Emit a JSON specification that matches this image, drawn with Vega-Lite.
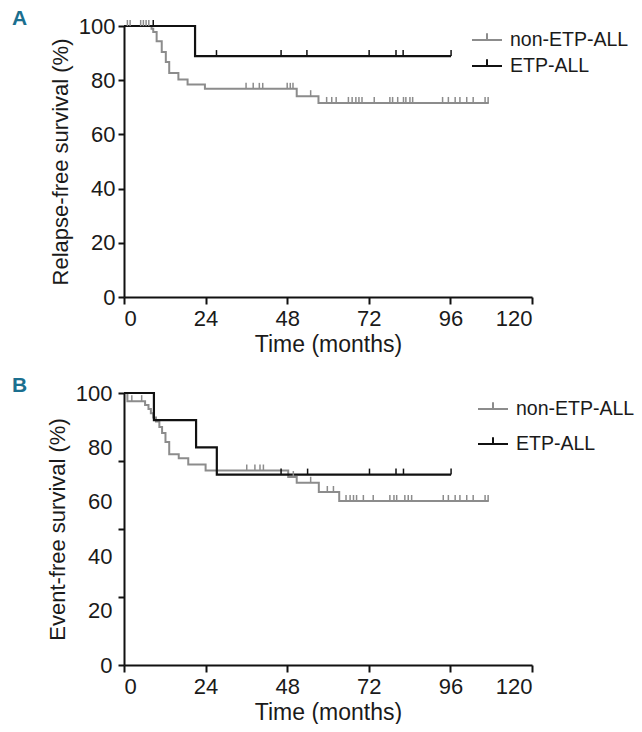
{
  "$schema": "https://vega.github.io/schema/vega-lite/v6.json",
  "padding": {"left": 12, "top": 8, "right": 0, "bottom": 0},
  "spacing": 19,
  "background": "white",
  "resolve": {"legend": {"color": "independent"}},
  "config": {
    "font": "Liberation Sans",
    "view": {"stroke": null},
    "axis": {
      "grid": false, "domainColor": "#111111", "domainWidth": 2, "tickColor": "#111111", "tickWidth": 2, "tickSize": 7,
      "labelFont": "Liberation Sans", "titleFont": "Liberation Sans",
      "labelFontSize": 22, "labelColor": "#1a1a1a", "titleFontSize": 22, "titleFontWeight": "normal", "titleColor": "#1a1a1a"
    },
    "legend": {
      "labelFont": "Liberation Sans", "labelFontSize": 19.5, "labelColor": "#1a1a1a",
      "symbolType": "M-1,0H1M0,0V-0.45", "symbolSize": 900, "symbolStrokeWidth": 2,
      "labelOffset": 7, "rowPadding": 0
    },
    "title": {"font": "Liberation Sans", "fontSize": 21, "fontWeight": "bold", "color": "#1b6f8f", "anchor": "start", "frame": "group", "offset": 0, "baseline": "alphabetic"}
  },
  "datasets": {
    "lineA": [
      {"group": "non-ETP-ALL", "t": 0, "s": 100}, {"group": "non-ETP-ALL", "t": 8.1, "s": 99.0}, {"group": "non-ETP-ALL", "t": 8.6, "s": 97.8},
      {"group": "non-ETP-ALL", "t": 9.6, "s": 94.4}, {"group": "non-ETP-ALL", "t": 11.1, "s": 90.4}, {"group": "non-ETP-ALL", "t": 12.3, "s": 86.7},
      {"group": "non-ETP-ALL", "t": 13.3, "s": 82.7}, {"group": "non-ETP-ALL", "t": 16.0, "s": 80.3}, {"group": "non-ETP-ALL", "t": 18.7, "s": 78.4},
      {"group": "non-ETP-ALL", "t": 23.8, "s": 76.8}, {"group": "non-ETP-ALL", "t": 50.8, "s": 74.1}, {"group": "non-ETP-ALL", "t": 57.2, "s": 71.6},
      {"group": "non-ETP-ALL", "t": 107.3, "s": 71.6},
      {"group": "ETP-ALL", "t": 0, "s": 100}, {"group": "ETP-ALL", "t": 20.9, "s": 88.9}, {"group": "ETP-ALL", "t": 96.2, "s": 88.9}
    ],
    "censA": [
      {"group": "non-ETP-ALL", "t": 1.0, "s": 100}, {"group": "non-ETP-ALL", "t": 1.8, "s": 100}, {"group": "non-ETP-ALL", "t": 4.9, "s": 100},
      {"group": "non-ETP-ALL", "t": 5.7, "s": 100}, {"group": "non-ETP-ALL", "t": 6.5, "s": 100}, {"group": "non-ETP-ALL", "t": 7.3, "s": 100},
      {"group": "non-ETP-ALL", "t": 35.9, "s": 76.8}, {"group": "non-ETP-ALL", "t": 38.0, "s": 76.8}, {"group": "non-ETP-ALL", "t": 39.8, "s": 76.8},
      {"group": "non-ETP-ALL", "t": 40.8, "s": 76.8}, {"group": "non-ETP-ALL", "t": 48.0, "s": 76.8}, {"group": "non-ETP-ALL", "t": 48.9, "s": 76.8},
      {"group": "non-ETP-ALL", "t": 49.7, "s": 76.8}, {"group": "non-ETP-ALL", "t": 54.9, "s": 74.1},
      {"group": "non-ETP-ALL", "t": 59.6, "s": 71.6}, {"group": "non-ETP-ALL", "t": 61.1, "s": 71.6}, {"group": "non-ETP-ALL", "t": 62.4, "s": 71.6},
      {"group": "non-ETP-ALL", "t": 66.0, "s": 71.6}, {"group": "non-ETP-ALL", "t": 67.1, "s": 71.6}, {"group": "non-ETP-ALL", "t": 68.2, "s": 71.6},
      {"group": "non-ETP-ALL", "t": 69.1, "s": 71.6}, {"group": "non-ETP-ALL", "t": 70.0, "s": 71.6}, {"group": "non-ETP-ALL", "t": 73.6, "s": 71.6},
      {"group": "non-ETP-ALL", "t": 78.2, "s": 71.6}, {"group": "non-ETP-ALL", "t": 79.0, "s": 71.6}, {"group": "non-ETP-ALL", "t": 80.5, "s": 71.6},
      {"group": "non-ETP-ALL", "t": 82.2, "s": 71.6}, {"group": "non-ETP-ALL", "t": 82.9, "s": 71.6}, {"group": "non-ETP-ALL", "t": 84.1, "s": 71.6},
      {"group": "non-ETP-ALL", "t": 84.9, "s": 71.6}, {"group": "non-ETP-ALL", "t": 93.7, "s": 71.6}, {"group": "non-ETP-ALL", "t": 95.4, "s": 71.6},
      {"group": "non-ETP-ALL", "t": 97.4, "s": 71.6}, {"group": "non-ETP-ALL", "t": 98.8, "s": 71.6}, {"group": "non-ETP-ALL", "t": 100.8, "s": 71.6},
      {"group": "non-ETP-ALL", "t": 102.7, "s": 71.6}, {"group": "non-ETP-ALL", "t": 106.2, "s": 71.6}, {"group": "non-ETP-ALL", "t": 107.1, "s": 71.6},
      {"group": "ETP-ALL", "t": 8.6, "s": 100}, {"group": "ETP-ALL", "t": 27.2, "s": 88.9}, {"group": "ETP-ALL", "t": 46.2, "s": 88.9},
      {"group": "ETP-ALL", "t": 53.8, "s": 88.9}, {"group": "ETP-ALL", "t": 72.1, "s": 88.9}, {"group": "ETP-ALL", "t": 80.0, "s": 88.9},
      {"group": "ETP-ALL", "t": 82.1, "s": 88.9}, {"group": "ETP-ALL", "t": 96.2, "s": 88.9}
    ],
    "lineB": [
      {"group": "non-ETP-ALL", "t": 0, "s": 100}, {"group": "non-ETP-ALL", "t": 1.0, "s": 97.0}, {"group": "non-ETP-ALL", "t": 6.2, "s": 95.6},
      {"group": "non-ETP-ALL", "t": 7.2, "s": 94.1}, {"group": "non-ETP-ALL", "t": 7.9, "s": 92.6}, {"group": "non-ETP-ALL", "t": 8.6, "s": 91.0},
      {"group": "non-ETP-ALL", "t": 9.4, "s": 89.5}, {"group": "non-ETP-ALL", "t": 10.4, "s": 87.5}, {"group": "non-ETP-ALL", "t": 11.2, "s": 85.3},
      {"group": "non-ETP-ALL", "t": 12.2, "s": 82.0}, {"group": "non-ETP-ALL", "t": 13.3, "s": 77.5}, {"group": "non-ETP-ALL", "t": 16.1, "s": 76.0},
      {"group": "non-ETP-ALL", "t": 18.9, "s": 73.7}, {"group": "non-ETP-ALL", "t": 24.0, "s": 71.5}, {"group": "non-ETP-ALL", "t": 48.3, "s": 69.1},
      {"group": "non-ETP-ALL", "t": 50.8, "s": 67.0}, {"group": "non-ETP-ALL", "t": 57.3, "s": 63.6}, {"group": "non-ETP-ALL", "t": 63.3, "s": 60.3},
      {"group": "non-ETP-ALL", "t": 107.3, "s": 60.3},
      {"group": "ETP-ALL", "t": 0, "s": 100}, {"group": "ETP-ALL", "t": 8.8, "s": 90}, {"group": "ETP-ALL", "t": 21.2, "s": 80},
      {"group": "ETP-ALL", "t": 27.3, "s": 70}, {"group": "ETP-ALL", "t": 96.2, "s": 70}
    ],
    "censB": [
      {"group": "non-ETP-ALL", "t": 2.3, "s": 97.0}, {"group": "non-ETP-ALL", "t": 5.2, "s": 97.0},
      {"group": "non-ETP-ALL", "t": 36.1, "s": 71.5}, {"group": "non-ETP-ALL", "t": 38.5, "s": 71.5}, {"group": "non-ETP-ALL", "t": 40.0, "s": 71.5},
      {"group": "non-ETP-ALL", "t": 41.0, "s": 71.5}, {"group": "non-ETP-ALL", "t": 49.8, "s": 69.1}, {"group": "non-ETP-ALL", "t": 54.9, "s": 67.0},
      {"group": "non-ETP-ALL", "t": 59.8, "s": 63.6}, {"group": "non-ETP-ALL", "t": 61.6, "s": 63.6},
      {"group": "non-ETP-ALL", "t": 65.3, "s": 60.3}, {"group": "non-ETP-ALL", "t": 66.5, "s": 60.3}, {"group": "non-ETP-ALL", "t": 67.5, "s": 60.3},
      {"group": "non-ETP-ALL", "t": 68.4, "s": 60.3}, {"group": "non-ETP-ALL", "t": 70.4, "s": 60.3}, {"group": "non-ETP-ALL", "t": 73.3, "s": 60.3},
      {"group": "non-ETP-ALL", "t": 78.2, "s": 60.3}, {"group": "non-ETP-ALL", "t": 79.4, "s": 60.3}, {"group": "non-ETP-ALL", "t": 80.2, "s": 60.3},
      {"group": "non-ETP-ALL", "t": 82.6, "s": 60.3}, {"group": "non-ETP-ALL", "t": 83.6, "s": 60.3}, {"group": "non-ETP-ALL", "t": 84.6, "s": 60.3},
      {"group": "non-ETP-ALL", "t": 93.9, "s": 60.3}, {"group": "non-ETP-ALL", "t": 95.4, "s": 60.3}, {"group": "non-ETP-ALL", "t": 97.4, "s": 60.3},
      {"group": "non-ETP-ALL", "t": 98.8, "s": 60.3}, {"group": "non-ETP-ALL", "t": 100.8, "s": 60.3}, {"group": "non-ETP-ALL", "t": 102.7, "s": 60.3},
      {"group": "non-ETP-ALL", "t": 106.2, "s": 60.3}, {"group": "non-ETP-ALL", "t": 107.1, "s": 60.3},
      {"group": "ETP-ALL", "t": 46.2, "s": 70}, {"group": "ETP-ALL", "t": 54.0, "s": 70}, {"group": "ETP-ALL", "t": 72.2, "s": 70},
      {"group": "ETP-ALL", "t": 80.0, "s": 70}, {"group": "ETP-ALL", "t": 82.2, "s": 70}, {"group": "ETP-ALL", "t": 96.2, "s": 70}
    ]
  },
  "vconcat": [
    {
      "width": 408, "height": 271,
      "title": {"text": "A", "dx": -112, "dy": 18},
      "encoding": {
        "x": {"field": "t", "type": "quantitative", "scale": {"domain": [0, 120], "nice": false},
              "axis": {"values": [0, 24, 48, 72, 96, 120], "title": "Time (months)", "titleFontSize": 23, "labelPadding": 4, "titlePadding": 4}},
        "y": {"field": "s", "type": "quantitative", "scale": {"domain": [0, 100]},
              "axis": {"values": [0, 20, 40, 60, 80, 100], "title": "Relapse-free survival (%)", "tickSize": 6, "labelPadding": 3, "titlePadding": 6}},
        "color": {"field": "group", "type": "nominal",
                  "scale": {"domain": ["non-ETP-ALL", "ETP-ALL"], "range": ["#8c8c8c", "#111111"]},
                  "legend": {"orient": "none", "legendX": 347, "legendY": -2, "title": null}}
      },
      "layer": [
        {"data": {"name": "lineA"}, "transform": [{"filter": "datum.group == 'non-ETP-ALL'"}],
         "mark": {"type": "line", "interpolate": "step-after", "strokeWidth": 2}},
        {"data": {"name": "lineA"}, "transform": [{"filter": "datum.group == 'ETP-ALL'"}],
         "mark": {"type": "line", "interpolate": "step-after", "strokeWidth": 2.2}},
        {"data": {"name": "censA"},
         "mark": {"type": "rule", "strokeWidth": 1.5, "y2Offset": -6},
         "encoding": {"y2": {"field": "s"}}}
      ]
    },
    {
      "width": 408, "height": 272,
      "title": {"text": "B", "dx": -112, "dy": 18},
      "resolve": {"axis": {"y": "independent"}},
      "encoding": {
        "x": {"field": "t", "type": "quantitative", "scale": {"domain": [0, 120], "nice": false},
              "axis": {"values": [0, 24, 48, 72, 96, 120], "title": "Time (months)", "titleFontSize": 23, "labelPadding": 4, "titlePadding": 4}},
        "color": {"field": "group", "type": "nominal",
                  "scale": {"domain": ["non-ETP-ALL", "ETP-ALL"], "range": ["#8c8c8c", "#111111"]},
                  "legend": {"orient": "none", "legendX": 353, "legendY": 0, "title": null, "rowPadding": 9}}
      },
      "layer": [
        {"data": {"name": "lineB"}, "transform": [{"filter": "datum.group == 'non-ETP-ALL'"}],
         "mark": {"type": "line", "interpolate": "step-after", "strokeWidth": 2}, 
         "encoding": {"y": {"field": "s", "type": "quantitative", "scale": {"domain": [0, 100]},
                  "axis": {"orient": "left", "values": [0, 25, 50, 75, 100], "labels": false, "title": null, "tickSize": 6}}}},
        {"data": {"name": "lineB"}, "transform": [{"filter": "datum.group == 'ETP-ALL'"}],
         "mark": {"type": "line", "interpolate": "step-after", "strokeWidth": 2.2},
         "encoding": {"y": {"field": "s", "type": "quantitative", "scale": {"domain": [0, 100]},
                  "axis": {"orient": "left", "values": [0, 20, 40, 60, 80, 100], "ticks": false, "domain": false, "labelPadding": 12, "title": "Event-free survival (%)", "titlePadding": 6}}}},
        {"data": {"name": "censB"},
         "mark": {"type": "rule", "strokeWidth": 1.5, "y2Offset": -6},
         "encoding": {"y": {"field": "s", "type": "quantitative", "axis": null}, "y2": {"field": "s"}}}
      ]
    }
  ]
}
